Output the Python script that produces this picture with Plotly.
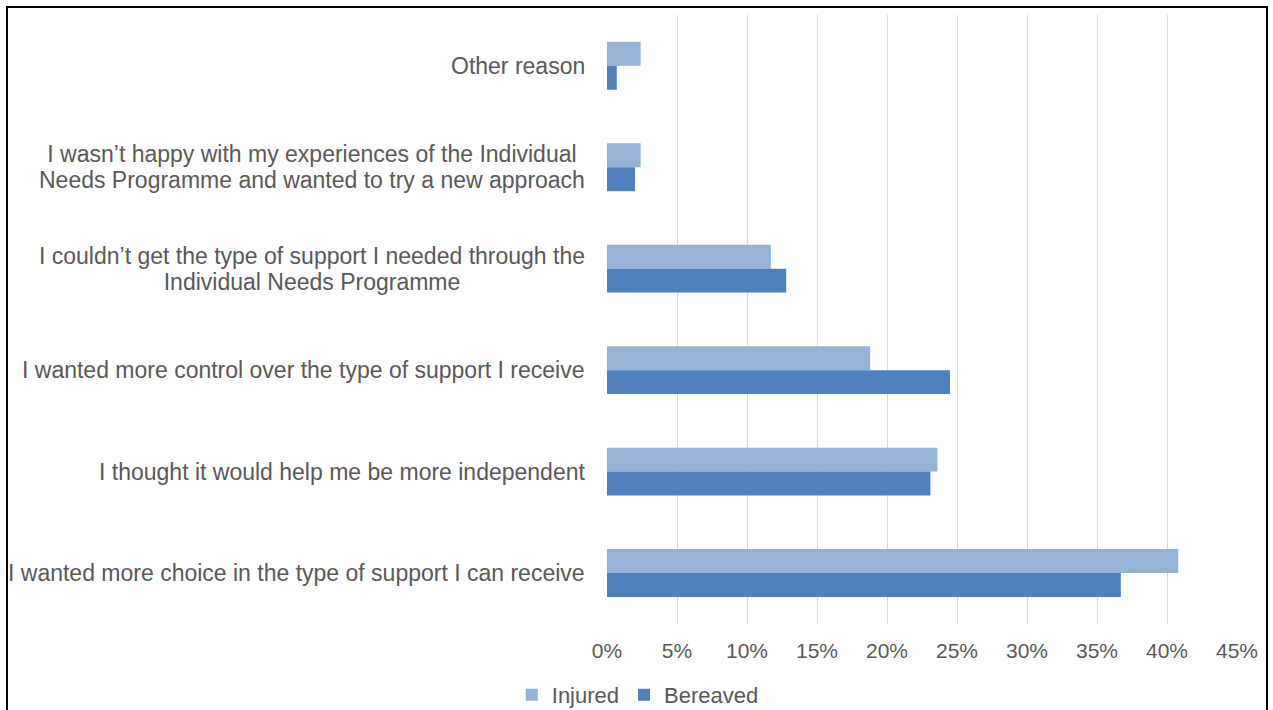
import plotly.graph_objects as go

# Reasons for choosing the new approach (top to bottom)
reasons = [
    "Other reason",
    "I wasn’t happy with my experiences of the Individual<br>Needs Programme and wanted to try a new approach",
    "I couldn’t get the type of support I needed through the<br>Individual Needs Programme",
    "I wanted more control over the type of support I receive",
    "I thought it would help me be more independent",
    "I wanted more choice in the type of support I can receive",
]

# Share of respondents per group
injured = [0.024, 0.024, 0.117, 0.188, 0.236, 0.408]
bereaved = [0.007, 0.020, 0.128, 0.245, 0.231, 0.367]

x_ticks = [0, 0.05, 0.10, 0.15, 0.20, 0.25, 0.30, 0.35, 0.40, 0.45]
x_tick_labels = ["0%", "5%", "10%", "15%", "20%", "25%", "30%", "35%", "40%", "45%"]

FONT = "Liberation Sans, Arial, sans-serif"
TEXT_GREY = "#595959"

W, H = 1273, 710
ML, MR, MT, MB = 607, 36, 15, 85

fig = go.Figure()
fig.add_trace(go.Bar(
    name="Injured", y=reasons, x=injured, orientation="h",
    marker=dict(color="#95B3D7", line=dict(width=0)),
))
fig.add_trace(go.Bar(
    name="Bereaved", y=reasons, x=bereaved, orientation="h",
    marker=dict(color="#4F81BD", line=dict(width=0)),
))

# Category labels: centred multi-line blocks right-aligned to the axis.
# Base font sets a tighter line pitch; glyphs are enlarged per line.
for r in reasons:
    styled = "<br>".join(
        '<span style="font-size:23px">' + line + "</span>" for line in r.split("<br>")
    )
    fig.add_annotation(
        x=0, xref="paper", y=r, yref="y",
        text=styled, showarrow=False, xanchor="right", yanchor="middle",
        align="center", xshift=-20,
        font=dict(family=FONT, size=20, color=TEXT_GREY),
    )

# Outer frame around the whole chart
pw = W - ML - MR
ph = H - MT - MB
fig.add_shape(
    type="rect", xref="paper", yref="paper",
    x0=(7 - ML) / pw, x1=(1267 - ML) / pw,
    y0=-(720 - (H - MB)) / ph, y1=1 + (MT - 7) / ph,
    line=dict(color="#000000", width=2), fillcolor="rgba(0,0,0,0)",
)

fig.update_layout(
    width=W, height=H,
    margin=dict(l=ML, r=MR, t=MT, b=MB, pad=0),
    paper_bgcolor="white", plot_bgcolor="white",
    barmode="group", bargap=0.528, bargroupgap=0,
    font=dict(family=FONT, size=21, color=TEXT_GREY),
    xaxis=dict(
        range=[0, 0.45], tickvals=x_ticks, ticktext=x_tick_labels,
        showgrid=True, gridcolor="#D9D9D9", gridwidth=1,
        zeroline=False, showline=False, ticks="outside", ticklen=8,
        tickcolor="rgba(0,0,0,0)",
        tickfont=dict(family=FONT, size=21, color=TEXT_GREY),
        fixedrange=True,
    ),
    yaxis=dict(
        categoryorder="array", categoryarray=reasons,
        autorange="reversed", showticklabels=False,
        showgrid=False, zeroline=False, showline=False, fixedrange=True,
    ),
    legend=dict(
        orientation="h", xref="container", yref="container",
        x=0.501, xanchor="center", y=1 - 695 / H, yanchor="middle",
        font=dict(family=FONT, size=22, color=TEXT_GREY),
        itemwidth=30, tracegroupgap=0,
    ),
    showlegend=True,
)

fig.write_html("out.html")
